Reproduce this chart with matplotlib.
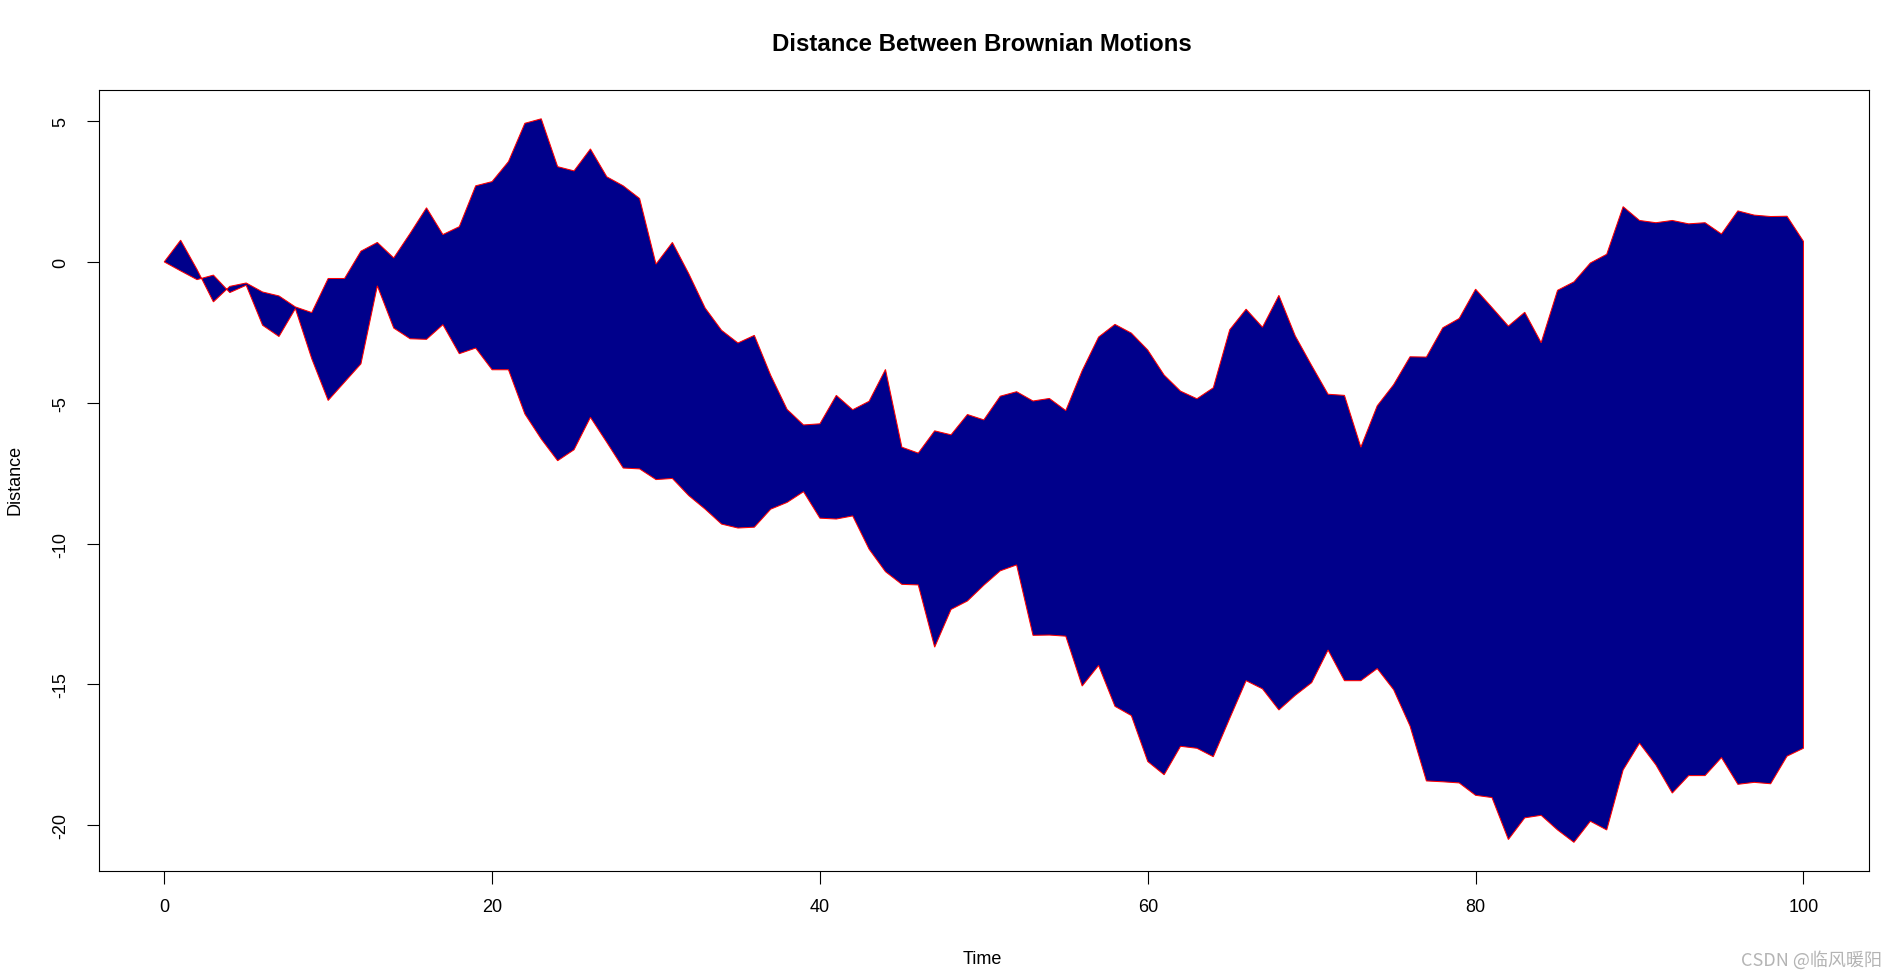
import numpy as np
import matplotlib
matplotlib.use('Agg')
import matplotlib.pyplot as plt

time = np.arange(0, 101)
bm1 = [0, 0.77, -0.27, -1.42, -0.87, -0.75, -1.07, -1.21, -1.60, -1.80,
       -0.59, -0.59, 0.38, 0.69, 0.14, 1.01, 1.92, 0.97, 1.25, 2.70,
       2.85, 3.56, 4.92, 5.08, 3.38, 3.23, 4.01, 3.02, 2.70, 2.25,
       -0.08, 0.69, -0.42, -1.64, -2.43, -2.88, -2.61, -4.03, -5.24, -5.79,
       -5.75, -4.74, -5.25, -4.95, -3.82, -6.58, -6.79, -6.00, -6.14, -5.42,
       -5.61, -4.77, -4.61, -4.94, -4.85, -5.28, -3.86, -2.67, -2.22, -2.53,
       -3.13, -4.02, -4.59, -4.86, -4.47, -2.41, -1.68, -2.32, -1.19, -2.63,
       -3.68, -4.70, -4.74, -6.58, -5.11, -4.36, -3.37, -3.38, -2.34, -2.01,
       -0.97, -1.62, -2.28, -1.79, -2.87, -1.01, -0.71, -0.04, 0.27, 1.96,
       1.47, 1.39, 1.47, 1.35, 1.39, 0.99, 1.81, 1.66, 1.61, 1.62,
       0.73]
bm2 = [0, -0.32, -0.63, -0.47, -1.09, -0.83, -2.25, -2.65, -1.66, -3.44,
       -4.92, -4.27, -3.62, -0.85, -2.35, -2.73, -2.75, -2.23, -3.26, -3.06,
       -3.83, -3.83, -5.40, -6.29, -7.06, -6.67, -5.52, -6.41, -7.32, -7.35,
       -7.73, -7.69, -8.30, -8.78, -9.31, -9.45, -9.42, -8.78, -8.54, -8.16,
       -9.10, -9.13, -9.02, -10.20, -11.00, -11.45, -11.47, -13.68, -12.34, -12.04,
       -11.48, -10.97, -10.76, -13.26, -13.25, -13.29, -15.06, -14.33, -15.78, -16.11,
       -17.74, -18.21, -17.20, -17.27, -17.57, -16.21, -14.87, -15.16, -15.91, -15.39,
       -14.94, -13.78, -14.87, -14.87, -14.44, -15.19, -16.48, -18.43, -18.46, -18.50,
       -18.94, -19.02, -20.51, -19.74, -19.65, -20.17, -20.61, -19.86, -20.17, -18.04,
       -17.09, -17.86, -18.86, -18.24, -18.24, -17.60, -18.55, -18.48, -18.53, -17.55,
       -17.27]
xticks = [0, 20, 40, 60, 80, 100]
yticks = [5, 0, -5, -10, -15, -20]

plt.rcParams['font.family'] = ['Liberation Sans', 'DejaVu Sans']
fig = plt.figure(figsize=(18.94, 9.78), dpi=100)
ax = fig.add_axes([0.0521, 0.1081, 0.9347, 0.799])

# polygon between the two paths, like R polygon()
xs = np.concatenate([time, time[::-1]])
ys = np.concatenate([bm1, bm2[::-1]])
ax.fill(xs, ys, facecolor='#00008B', edgecolor='red', linewidth=0.75)

# R style 4% axis padding
allv = np.concatenate([bm1, bm2])
rng = allv.max() - allv.min()
ax.set_xlim(-4, 104)
ax.set_ylim(allv.min() - 0.04 * rng, allv.max() + 0.04 * rng)

ax.set_xticks(xticks)
ax.set_xticklabels([str(v) for v in xticks])
ax.set_yticks(yticks)
ax.set_yticklabels([str(v) for v in yticks], rotation=90, va='center')
ax.tick_params(direction='out', length=9, width=0.8, labelsize=13, colors='black')
ax.tick_params(axis='x', pad=10)
ax.tick_params(axis='y', pad=12)
for s in ax.spines.values():
    s.set_linewidth(0.8)
    s.set_color('black')

fig.text(0.5185, 0.9545, 'Distance Between Brownian Motions', ha='center', va='center',
         fontsize=17.3, fontweight='bold')
fig.text(0.5185, 0.019, 'Time', ha='center', va='center', fontsize=13)
fig.text(0.0077, 0.509, 'Distance', ha='center', va='center', rotation=90, fontsize=13)
fig.text(0.9935, 0.018, 'CSDN @临风暖阳', ha='right', va='center', fontsize=13,
         color='#b4b4b4', family=['Noto Sans CJK SC', 'DejaVu Sans'])

plt.savefig('out.png', dpi=100)
